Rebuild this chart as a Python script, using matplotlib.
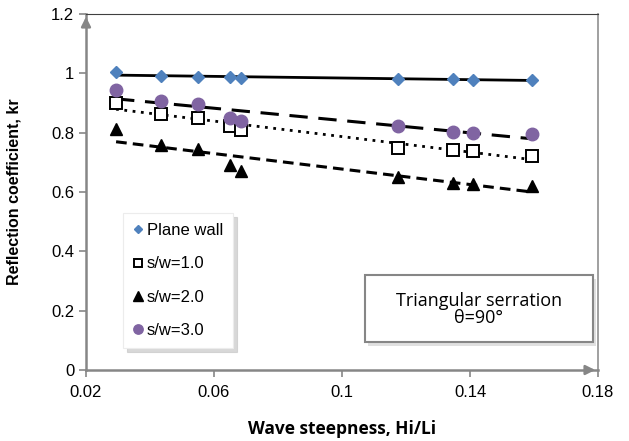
import matplotlib
matplotlib.use("Agg")
import matplotlib.pyplot as plt
import matplotlib.patches as mpatches
import numpy as np

plt.rcParams["font.family"] = ["Liberation Sans", "DejaVu Sans"]

# wave steepness Hi/Li (same x for every series)
steepness = [0.0294, 0.0433, 0.0551, 0.065, 0.0683, 0.1174, 0.1346, 0.1408, 0.1595]

plane_wall = [1.003, 0.990, 0.988, 0.986, 0.984, 0.982, 0.980, 0.979, 0.978]
sw_1 = [0.899, 0.862, 0.851, 0.821, 0.809, 0.750, 0.742, 0.739, 0.721]
sw_2 = [0.813, 0.759, 0.744, 0.691, 0.672, 0.650, 0.632, 0.627, 0.621]
sw_3 = [0.944, 0.908, 0.896, 0.849, 0.840, 0.824, 0.802, 0.800, 0.795]

x_ticks = [0.02, 0.06, 0.1, 0.14, 0.18]
x_tick_labels = ["0.02", "0.06", "0.1", "0.14", "0.18"]
y_ticks = [0, 0.2, 0.4, 0.6, 0.8, 1.0, 1.2]
y_tick_labels = ["0", "0.2", "0.4", "0.6", "0.8", "1", "1.2"]

fig = plt.figure(figsize=(6.29, 4.41), dpi=100)
ax = fig.add_axes([86 / 629, 1 - 370 / 441, 512 / 629, 356 / 441])

x = np.array(steepness)
series = [
    ("Plane wall", plane_wall, dict(marker="D", ms=6, mfc="#4F81BD", mec="#4F81BD"), (0, ()), 2.0),
    ("s/w=1.0", sw_1, dict(marker="s", ms=8.5, mfc="white", mec="black", mew=1.4), (0, (1, 2)), 2.0),
    ("s/w=2.0", sw_2, dict(marker="^", ms=9, mfc="black", mec="black"), (0, (3.5, 2)), 2.2),
    ("s/w=3.0", sw_3, dict(marker="o", ms=9, mfc="#8064A2", mec="#8064A2"), (0, (6, 3.5)), 2.2),
]

handles = []
for label, y, mstyle, ls, lw in series:
    # linear trend line across the data range
    m, b = np.polyfit(x, y, 1)
    xs = np.array([x.min(), x.max()])
    ax.plot(xs, m * xs + b, color="black", linestyle=ls, linewidth=lw, zorder=2)
    h, = ax.plot(x, y, linestyle="none", zorder=3, label=label, **mstyle)
    handles.append(h)

ax.set_xlim(0.02, 0.18)
ax.set_ylim(0, 1.2)
ax.set_xticks(x_ticks)
ax.set_xticklabels(x_tick_labels)
ax.set_yticks(y_ticks)
ax.set_yticklabels(y_tick_labels)
ax.tick_params(axis="both", labelsize=12, color="#868686", length=5, width=1.2)
ax.tick_params(axis="x", pad=6)

for side in ["left", "bottom"]:
    ax.spines[side].set_color("#868686")
    ax.spines[side].set_linewidth(1.8)
ax.spines["top"].set_color("#404040")
ax.spines["top"].set_linewidth(0.8)
ax.spines["right"].set_color("#909090")
ax.spines["right"].set_linewidth(1.2)

# arrow heads on the axes
ax.annotate("", xy=(1.0, 0), xytext=(0.97, 0), xycoords="axes fraction",
            arrowprops=dict(arrowstyle="-|>", color="#868686", lw=1.8, mutation_scale=14),
            annotation_clip=False)
ax.annotate("", xy=(0, 1.0), xytext=(0, 0.96), xycoords="axes fraction",
            arrowprops=dict(arrowstyle="-|>", color="#868686", lw=1.8, mutation_scale=14),
            annotation_clip=False)

ax.set_ylabel("Reflection coefficient, kr", fontsize=11.5, fontweight="bold")
ax.yaxis.set_label_coords(-0.125, 0.5)
ax.set_xlabel("Wave steepness, Hi/Li", fontsize=12.5, fontweight="bold",
              family=["Open Sans", "DejaVu Sans"])
ax.xaxis.set_label_coords(0.5, -0.14)

leg = ax.legend(handles=handles, loc="upper left", bbox_to_anchor=(0.072, 0.441),
                borderaxespad=0, fontsize=12, frameon=True, fancybox=False,
                shadow=dict(color="#c8c8c8", alpha=0.7, ox=3, oy=-3),
                handlelength=0.6, handletextpad=0.25, labelspacing=1.1,
                borderpad=0.6, markerscale=0.75)
leg.get_frame().set_edgecolor("#ececec")
leg.get_frame().set_linewidth(0.8)

# annotation box with a soft drop shadow
box_x, box_y, box_w, box_h = 0.545, 0.079, 0.445, 0.188
ax.add_patch(mpatches.Rectangle((box_x + 0.006, box_y - 0.011), box_w, box_h,
                                transform=ax.transAxes, facecolor="#d4d4d4",
                                edgecolor="none", alpha=0.7, zorder=3.5))
ax.add_patch(mpatches.Rectangle((box_x, box_y), box_w, box_h, transform=ax.transAxes,
                                facecolor="white", edgecolor="#868686", linewidth=1.5,
                                zorder=4))
ax.text(box_x + box_w / 2, 0.17, "Triangular serration\nθ=90°", transform=ax.transAxes,
        ha="center", va="center", fontsize=13, linespacing=0.9,
        family=["Open Sans", "DejaVu Sans"], zorder=5)

fig.savefig("out.png", dpi=100)
